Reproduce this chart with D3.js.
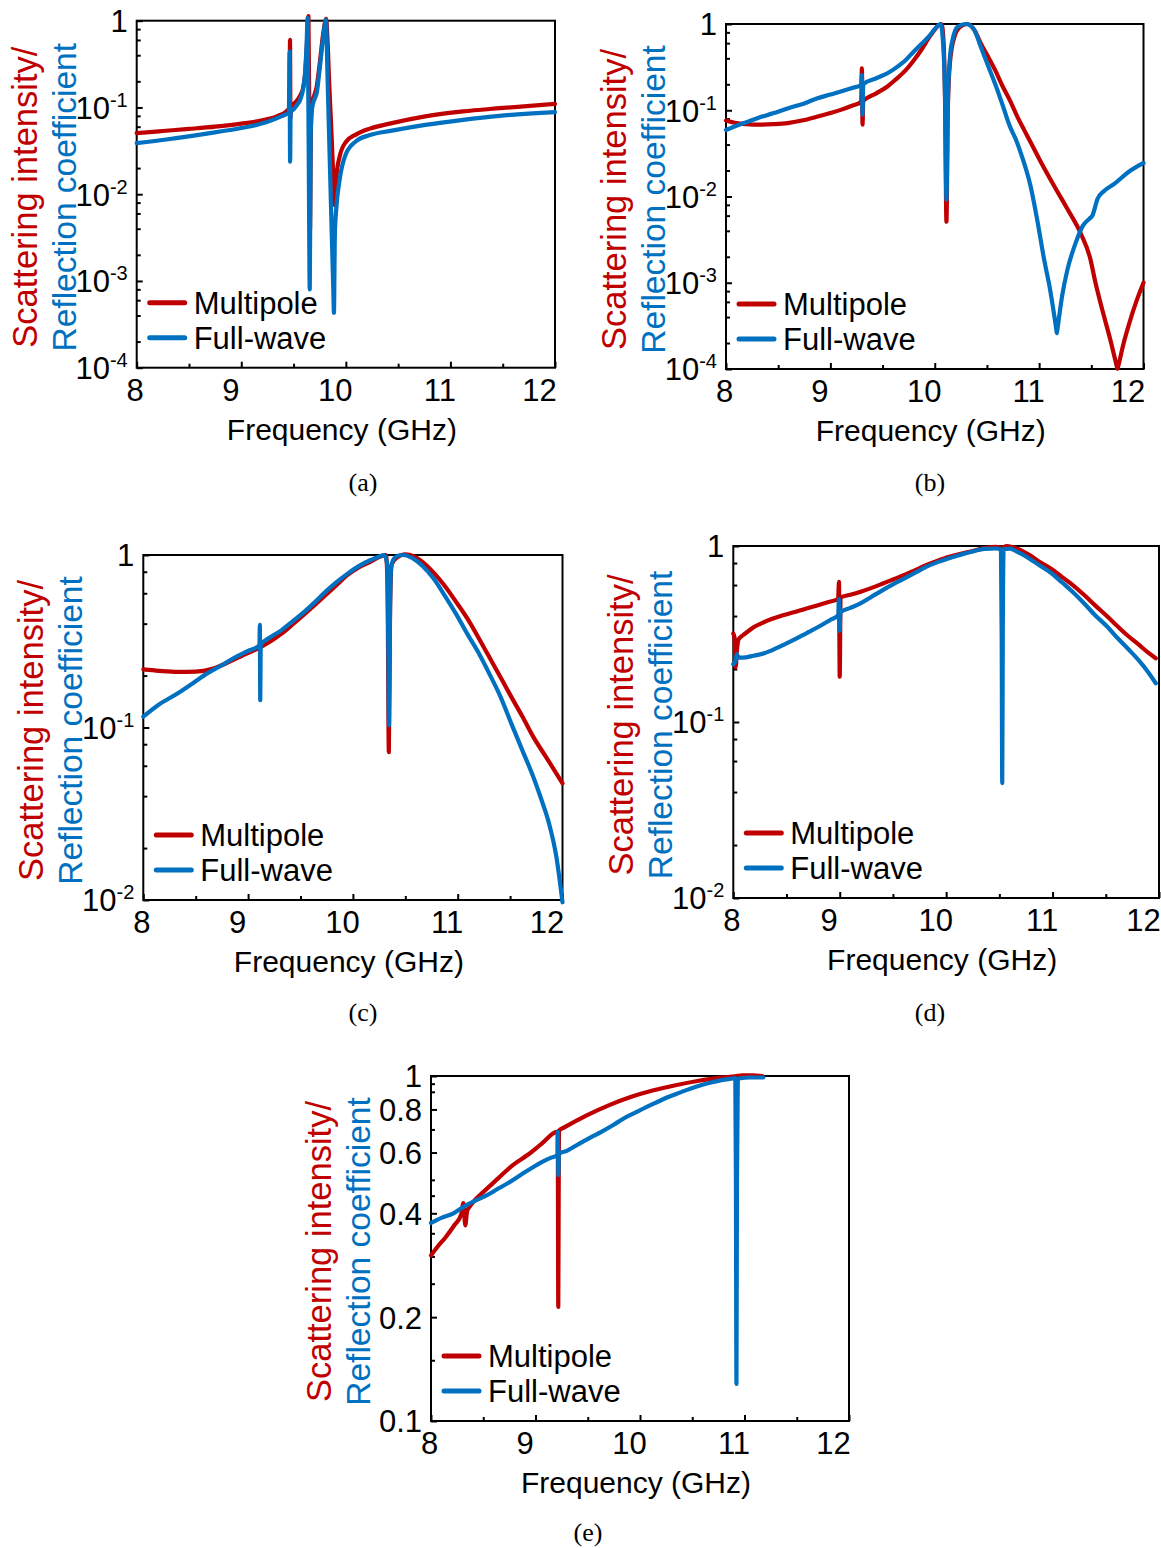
<!DOCTYPE html>
<html>
<head>
<meta charset="utf-8">
<script src="https://cdn.jsdelivr.net/npm/d3@7"></script>
<style>
  body { margin: 0; background: #fff; }
  svg { display: block; }
</style>
</head>
<body>
<svg id="fig" width="1161" height="1548"></svg>
<script>
// ---- axis ticks and text ----
const xTicks = [8, 9, 10, 11, 12];
const xMinorTicks = [8.5, 9.5, 10.5, 11.5];
const decadeTicks4 = [1e-4, 1e-3, 1e-2, 1e-1, 1];
const decadeTicks2 = [1e-2, 1e-1, 1];
const linTicksE = [0.1, 0.2, 0.4, 0.6, 0.8, 1];
const minorTicksE = [0.15, 0.25, 0.3, 0.35, 0.45, 0.5, 0.7, 0.9, 0.95];
const seriesNames = ["Multipole", "Full-wave"];
const captions = ["(a)", "(b)", "(c)", "(d)", "(e)"];
const yTitleLines = ["Scattering intensity/", "Reflection coefficient"];
const xTitle = "Frequency (GHz)";

// ---- spectra: [frequency (GHz), normalized value] ----
const multipoleA = [[8.00,0.0506],[8.25,0.0535],[8.50,0.0565],[8.75,0.060],[9.00,0.065],[9.20,0.071],[9.35,0.080],[9.43,0.090],[9.462,0.100],[9.466,0.60],[9.470,0.075],[9.475,0.102],[9.52,0.115],[9.56,0.135],[9.59,0.165],[9.61,0.24],[9.625,0.45],[9.642,1.13],[9.652,0.05],[9.658,0.004],[9.665,0.05],[9.675,0.105],[9.70,0.14],[9.72,0.17],[9.75,0.32],[9.784,0.72],[9.812,1.05],[9.822,0.70],[9.84,0.20],[9.86,0.06],[9.878,0.018],[9.893,0.0075],[9.91,0.016],[9.94,0.027],[10.00,0.040],[10.10,0.049],[10.23,0.057],[10.44,0.066],[10.76,0.079],[11.12,0.090],[11.47,0.098],[12.00,0.110]];
const fullwaveA = [[8.00,0.0388],[8.30,0.043],[8.67,0.050],[9.00,0.058],[9.17,0.064],[9.38,0.079],[9.455,0.088],[9.462,0.44],[9.467,0.0237],[9.472,0.088],[9.50,0.095],[9.54,0.110],[9.563,0.122],[9.59,0.16],[9.61,0.25],[9.625,0.55],[9.634,1.07],[9.645,0.03],[9.655,0.0008],[9.664,0.05],[9.675,0.095],[9.70,0.125],[9.721,0.146],[9.752,0.295],[9.784,0.65],[9.81,1.02],[9.825,0.22],[9.845,0.028],[9.865,0.0036],[9.88,0.0008],[9.886,0.00043],[9.895,0.0035],[9.91,0.0072],[9.94,0.0146],[10.00,0.029],[10.10,0.041],[10.23,0.048],[10.44,0.054],[10.76,0.063],[11.12,0.072],[11.47,0.080],[12.00,0.0885]];

const multipoleB = [[8.00,0.076],[8.10,0.071],[8.20,0.069],[8.30,0.068],[8.45,0.069],[8.59,0.071],[8.75,0.077],[8.87,0.084],[9.00,0.093],[9.10,0.101],[9.20,0.112],[9.295,0.125],[9.302,0.306],[9.308,0.068],[9.315,0.128],[9.44,0.157],[9.55,0.19],[9.62,0.224],[9.72,0.29],[9.80,0.38],[9.88,0.52],[9.94,0.68],[10.00,0.86],[10.04,0.97],[10.065,1.0],[10.085,0.6],[10.10,0.1],[10.112,0.0051],[10.125,0.1],[10.145,0.35],[10.19,0.72],[10.24,0.92],[10.31,1.0],[10.38,0.85],[10.44,0.6],[10.51,0.42],[10.58,0.29],[10.65,0.19],[10.72,0.13],[10.79,0.085],[10.86,0.058],[10.93,0.040],[11.01,0.026],[11.14,0.0135],[11.27,0.0072],[11.40,0.0037],[11.49,0.0019],[11.54,0.0010],[11.59,0.00057],[11.69,0.0002],[11.745,0.000106],[11.75,0.0001],[11.755,0.000105],[11.81,0.0002],[11.87,0.00036],[11.93,0.0006],[12.00,0.0010]];
const fullwaveB = [[8.00,0.059],[8.10,0.066],[8.20,0.073],[8.30,0.081],[8.45,0.092],[8.59,0.105],[8.75,0.120],[8.87,0.137],[9.00,0.152],[9.10,0.165],[9.20,0.180],[9.295,0.196],[9.302,0.256],[9.308,0.089],[9.315,0.200],[9.44,0.235],[9.55,0.27],[9.62,0.306],[9.72,0.38],[9.80,0.48],[9.88,0.60],[9.94,0.71],[10.00,0.87],[10.03,0.96],[10.055,1.0],[10.08,0.6],[10.10,0.12],[10.112,0.0092],[10.125,0.12],[10.145,0.40],[10.17,0.65],[10.22,0.93],[10.30,1.0],[10.37,0.89],[10.44,0.55],[10.51,0.33],[10.58,0.20],[10.65,0.115],[10.72,0.065],[10.78,0.045],[10.84,0.028],[10.92,0.0129],[10.98,0.0055],[11.05,0.0018],[11.10,0.0009],[11.165,0.000286],[11.17,0.00026],[11.175,0.000287],[11.22,0.0007],[11.27,0.0014],[11.35,0.0029],[11.42,0.0046],[11.48,0.0055],[11.51,0.0060],[11.56,0.0094],[11.62,0.0115],[11.72,0.014],[11.85,0.019],[12.00,0.0245]];

const multipoleC = [[8.00,0.217],[8.15,0.213],[8.33,0.210],[8.50,0.211],[8.65,0.218],[8.82,0.240],[8.95,0.262],[9.10,0.288],[9.20,0.312],[9.32,0.350],[9.43,0.398],[9.53,0.450],[9.64,0.515],[9.74,0.586],[9.85,0.675],[9.95,0.766],[10.06,0.850],[10.17,0.915],[10.27,0.985],[10.315,1.0],[10.33,0.7],[10.343,0.072],[10.355,0.5],[10.37,0.88],[10.42,0.965],[10.50,1.01],[10.58,0.985],[10.66,0.915],[10.77,0.79],[10.87,0.67],[10.98,0.54],[11.09,0.43],[11.20,0.33],[11.30,0.257],[11.41,0.195],[11.51,0.151],[11.62,0.115],[11.72,0.0885],[11.86,0.065],[12.00,0.0475]];
const fullwaveC = [[8.00,0.1156],[8.15,0.136],[8.33,0.158],[8.47,0.180],[8.61,0.206],[8.74,0.228],[8.86,0.252],[9.00,0.278],[9.108,0.300],[9.112,0.393],[9.116,0.144],[9.120,0.302],[9.20,0.330],[9.32,0.367],[9.43,0.415],[9.53,0.465],[9.64,0.535],[9.74,0.613],[9.85,0.700],[9.95,0.780],[10.06,0.865],[10.17,0.935],[10.26,0.985],[10.30,1.0],[10.325,0.9],[10.338,0.3],[10.345,0.103],[10.352,0.35],[10.365,0.85],[10.39,0.95],[10.43,0.99],[10.48,1.0],[10.56,0.965],[10.66,0.87],[10.77,0.73],[10.87,0.59],[10.98,0.46],[11.09,0.35],[11.20,0.27],[11.30,0.206],[11.41,0.150],[11.51,0.106],[11.62,0.073],[11.72,0.052],[11.80,0.038],[11.87,0.028],[11.94,0.018],[12.00,0.0097]];

const multipoleD = [[8.00,0.318],[8.012,0.30],[8.022,0.205],[8.035,0.26],[8.05,0.295],[8.09,0.311],[8.14,0.328],[8.19,0.345],[8.27,0.365],[8.36,0.385],[8.46,0.403],[8.57,0.420],[8.68,0.440],[8.78,0.458],[8.88,0.478],[8.985,0.500],[8.993,0.625],[9.000,0.181],[9.008,0.510],[9.10,0.528],[9.19,0.548],[9.30,0.578],[9.40,0.610],[9.50,0.645],[9.60,0.682],[9.71,0.730],[9.81,0.777],[9.92,0.825],[10.02,0.866],[10.13,0.900],[10.23,0.930],[10.36,0.972],[10.47,0.990],[10.52,0.975],[10.57,1.0],[10.67,0.965],[10.78,0.890],[10.88,0.810],[10.99,0.740],[11.09,0.665],[11.19,0.600],[11.30,0.525],[11.40,0.460],[11.51,0.400],[11.61,0.350],[11.71,0.308],[11.81,0.275],[11.89,0.250],[11.97,0.230]];
const fullwaveD = [[8.00,0.213],[8.02,0.222],[8.033,0.243],[8.05,0.232],[8.09,0.232],[8.19,0.238],[8.29,0.246],[8.40,0.262],[8.50,0.280],[8.60,0.300],[8.71,0.325],[8.81,0.350],[8.91,0.380],[8.986,0.405],[8.992,0.500],[8.999,0.330],[9.006,0.420],[9.10,0.445],[9.19,0.470],[9.30,0.515],[9.40,0.560],[9.50,0.605],[9.60,0.650],[9.71,0.705],[9.81,0.760],[9.92,0.810],[10.02,0.850],[10.13,0.890],[10.23,0.925],[10.36,0.962],[10.47,0.968],[10.515,0.955],[10.522,0.3],[10.527,0.045],[10.532,0.3],[10.54,0.96],[10.60,0.965],[10.67,0.925],[10.78,0.850],[10.88,0.775],[10.99,0.700],[11.09,0.620],[11.19,0.548],[11.30,0.470],[11.40,0.404],[11.51,0.350],[11.61,0.300],[11.71,0.260],[11.81,0.224],[11.89,0.195],[11.97,0.166]];

const multipoleE = [[8.00,0.302],[8.07,0.322],[8.14,0.341],[8.22,0.368],[8.29,0.398],[8.31,0.428],[8.328,0.369],[8.345,0.405],[8.37,0.418],[8.43,0.440],[8.50,0.461],[8.64,0.504],[8.78,0.551],[8.92,0.589],[9.06,0.637],[9.20,0.689],[9.213,0.690],[9.218,0.214],[9.224,0.695],[9.28,0.711],[9.49,0.769],[9.70,0.822],[9.91,0.869],[10.13,0.909],[10.34,0.940],[10.55,0.967],[10.77,0.989],[10.91,0.998],[10.98,1.004],[11.08,1.004],[11.17,1.0]];
const fullwaveE = [[8.00,0.375],[8.10,0.388],[8.21,0.399],[8.32,0.419],[8.43,0.436],[8.54,0.452],[8.64,0.471],[8.75,0.492],[8.85,0.515],[8.96,0.540],[9.06,0.563],[9.15,0.580],[9.21,0.589],[9.214,0.689],[9.219,0.516],[9.224,0.595],[9.30,0.607],[9.42,0.637],[9.52,0.662],[9.63,0.689],[9.74,0.720],[9.84,0.752],[9.95,0.782],[10.06,0.813],[10.17,0.842],[10.27,0.869],[10.38,0.895],[10.48,0.919],[10.59,0.942],[10.70,0.961],[10.78,0.973],[10.87,0.982],[10.912,0.986],[10.918,0.5],[10.923,0.128],[10.928,0.5],[10.936,0.975],[10.96,0.985],[11.05,0.990],[11.18,0.990]];

// ---- drawing ----
const RED = "#c00000", BLUE = "#0070c0";
const SANS = "Arial, 'Liberation Sans', sans-serif";
const SERIF = "'Times New Roman', 'Liberation Serif', serif";
const svg = d3.select("#fig");

function decadeMinors(lo, hi) {
  const out = [];
  for (let e = Math.round(Math.log10(lo)); e < Math.round(Math.log10(hi)); e++)
    for (const m of [2, 4, 6, 8]) out.push(m * Math.pow(10, e));
  return out;
}

const panels = [
  { x0: 136.7, x1: 555,   y0: 20.7, y1: 367.7, yDomain: [1e-4, 1], yMajor: decadeTicks4, yMinor: decadeMinors(1e-4, 1), pow: true,  red: multipoleA, blue: fullwaveA, cap: captions[0], capX: 363, capY: 491 },
  { x0: 726,   x1: 1143.5,y0: 24,   y1: 369,   yDomain: [1e-4, 1], yMajor: decadeTicks4, yMinor: decadeMinors(1e-4, 1), pow: true,  red: multipoleB, blue: fullwaveB, cap: captions[1], capX: 930, capY: 491 },
  { x0: 143.3, x1: 562.5, y0: 555,  y1: 900,   yDomain: [1e-2, 1], yMajor: decadeTicks2, yMinor: decadeMinors(1e-2, 1), pow: true,  red: multipoleC, blue: fullwaveC, cap: captions[2], capX: 363, capY: 1021 },
  { x0: 733.3, x1: 1159,  y0: 546,  y1: 898,   yDomain: [1e-2, 1], yMajor: decadeTicks2, yMinor: decadeMinors(1e-2, 1), pow: true,  red: multipoleD, blue: fullwaveD, cap: captions[3], capX: 930, capY: 1021 },
  { x0: 431,   x1: 849,   y0: 1076, y1: 1421,  yDomain: [0.1, 1],  yMajor: linTicksE,    yMinor: minorTicksE,             pow: false, red: multipoleE, blue: fullwaveE, cap: captions[4], capX: 588, capY: 1541 }
];

function styleAxis(gAxis) {
  gAxis.select(".domain").remove();
  gAxis.selectAll("line").attr("stroke", "#000").attr("stroke-width", 2);
}

// horizontal nudge of the frequency labels
const xLabelShift = d => (d === xTicks[0] ? -2 : d === xTicks[xTicks.length - 1] ? -16 : -11);

panels.forEach(p => {
  const x = d3.scaleLinear().domain([8, 12]).range([p.x0, p.x1]);
  const y = d3.scaleLog().domain(p.yDomain).range([p.y1, p.y0]);
  const g = svg.append("g");

  // frame
  g.append("rect")
    .attr("x", p.x0).attr("y", p.y0)
    .attr("width", p.x1 - p.x0).attr("height", p.y1 - p.y0)
    .attr("fill", "none").attr("stroke", "#000").attr("stroke-width", 2);

  // bottom axis (ticks point inward)
  const gx = g.append("g").attr("transform", `translate(0,${p.y1})`)
    .call(d3.axisBottom(x).tickValues(xTicks).tickFormat(d3.format("d"))
      .tickSizeInner(-6).tickSizeOuter(0).tickPadding(11));
  styleAxis(gx);
  gx.selectAll("text")
    .attr("font-family", SANS).attr("font-size", 31).attr("fill", "#000")
    .attr("dx", xLabelShift);
  const gxm = g.append("g").attr("transform", `translate(0,${p.y1})`)
    .call(d3.axisBottom(x).tickValues(xMinorTicks).tickSizeInner(-4).tickSizeOuter(0).tickFormat(""));
  styleAxis(gxm);

  // left axis
  const gy = g.append("g").attr("transform", `translate(${p.x0},0)`)
    .call(d3.axisLeft(y).tickValues(p.yMajor).tickSizeInner(-6).tickSizeOuter(0).tickPadding(9).tickFormat(() => ""));
  styleAxis(gy);
  gy.selectAll("text")
    .attr("font-family", SANS).attr("font-size", 31).attr("fill", "#000").attr("dy", "0.35em")
    .each(function (d) {
      const t = d3.select(this);
      t.text(null);
      if (p.pow && d !== 1) {
        t.append("tspan").text("10");
        t.append("tspan").attr("font-size", 20).attr("dy", -12).text("-" + Math.round(-Math.log10(d)));
      } else {
        t.append("tspan").text(String(d));
      }
    });
  const gym = g.append("g").attr("transform", `translate(${p.x0},0)`)
    .call(d3.axisLeft(y).tickValues(p.yMinor).tickSizeInner(-4).tickSizeOuter(0).tickFormat(""));
  styleAxis(gym);

  // curves
  const line = d3.line().x(d => x(d[0])).y(d => y(d[1])).curve(d3.curveMonotoneX);
  [[p.red, RED], [p.blue, BLUE]].forEach(([data, color]) => {
    g.append("path").datum(data).attr("d", line)
      .attr("fill", "none").attr("stroke", color).attr("stroke-width", 4.2)
      .attr("stroke-linejoin", "round").attr("stroke-linecap", "round");
  });

  // legend
  [[seriesNames[0], RED, p.y1 - 65], [seriesNames[1], BLUE, p.y1 - 30]].forEach(([name, color, ly]) => {
    g.append("line").attr("x1", p.x0 + 13).attr("x2", p.x0 + 48).attr("y1", ly).attr("y2", ly)
      .attr("stroke", color).attr("stroke-width", 5).attr("stroke-linecap", "round");
    g.append("text").attr("x", p.x0 + 57).attr("y", ly).attr("dy", "0.35em")
      .attr("font-family", SANS).attr("font-size", 31).attr("fill", "#000").text(name);
  });

  // axis titles
  const cy = (p.y0 + p.y1) / 2 + 3;
  g.append("text").attr("transform", `translate(${p.x0 - 100},${cy}) rotate(-90)`)
    .attr("text-anchor", "middle").attr("font-family", SANS).attr("font-size", 34.5)
    .attr("fill", RED).text(yTitleLines[0]);
  g.append("text").attr("transform", `translate(${p.x0 - 61},${cy}) rotate(-90)`)
    .attr("text-anchor", "middle").attr("font-family", SANS).attr("font-size", 33.5)
    .attr("fill", BLUE).text(yTitleLines[1]);
  g.append("text").attr("x", (p.x0 + p.x1) / 2 - 4).attr("y", p.y1 + 72)
    .attr("text-anchor", "middle").attr("font-family", SANS).attr("font-size", 30)
    .attr("fill", "#000").text(xTitle);

  // panel caption
  g.append("text").attr("x", p.capX).attr("y", p.capY)
    .attr("text-anchor", "middle").attr("font-family", SERIF).attr("font-size", 26)
    .attr("fill", "#000").text(p.cap);
});
</script>
</body>
</html>
